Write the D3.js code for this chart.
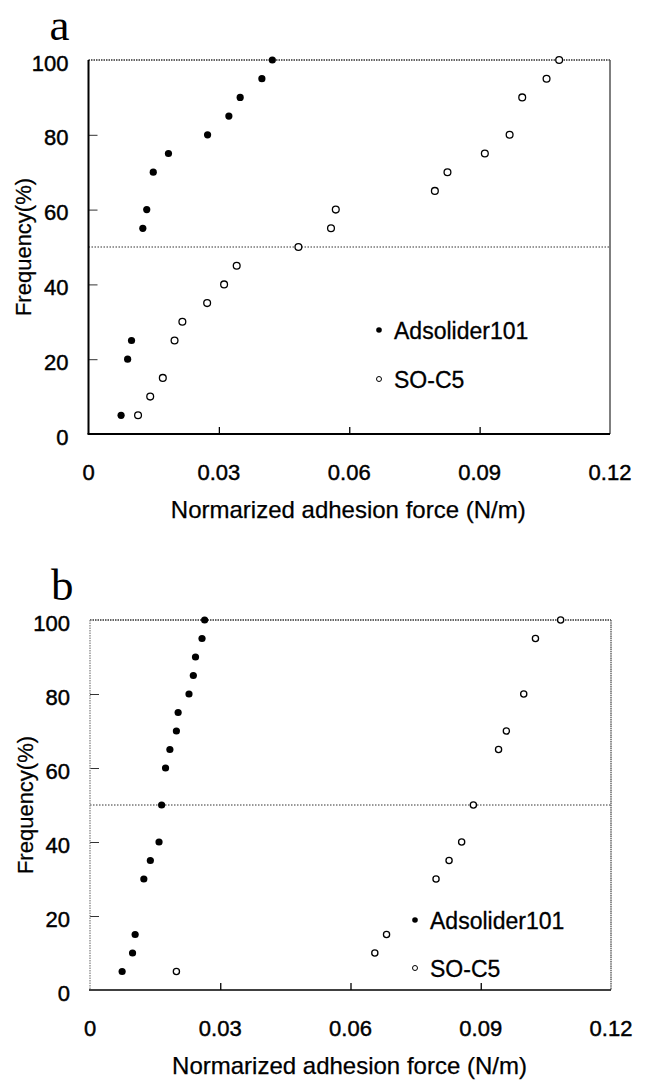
<!DOCTYPE html>
<html>
<head>
<meta charset="utf-8">
<script src="https://cdn.jsdelivr.net/npm/d3@7"></script>
<style>
  html, body { margin: 0; padding: 0; background: #fff; }
  svg { display: block; font-family: "Liberation Sans", Arial, sans-serif; }
  .tick-label { font-size: 22px; fill: #000; stroke: #000; stroke-width: 0.45px; }
  .axis-title { font-size: 22px; fill: #000; stroke: #000; stroke-width: 0.25px; }
  .legend-text { font-size: 23px; fill: #000; stroke: #000; stroke-width: 0.3px; }
  .panel-letter { font-family: "Liberation Serif", "Times New Roman", serif; font-size: 45px; fill: #000; }
</style>
</head>
<body>
<svg id="chart" width="648" height="1085"></svg>
<script>
// panel a
const aFilledX = [0.0075, 0.0090, 0.0099, 0.0125, 0.0134, 0.0149, 0.0184, 0.0274, 0.0323, 0.0349, 0.0399, 0.0423];
const aFilledY = [5, 20, 25, 55, 60, 70, 75, 80, 85, 90, 95, 100];
const aOpenX = [0.0114, 0.0142, 0.0171, 0.0198, 0.0216, 0.0273, 0.0312, 0.0341, 0.0483, 0.0558, 0.0569, 0.0797, 0.0826, 0.0912, 0.0969, 0.0998, 0.1054, 0.1083];
const aOpenY = [5, 10, 15, 25, 30, 35, 40, 45, 50, 55, 60, 65, 70, 75, 80, 90, 95, 100];

// panel b
const bFilledX = [0.0074, 0.0098, 0.0104, 0.0124, 0.0139, 0.0159, 0.0165, 0.0174, 0.0184, 0.0199, 0.0203, 0.0228, 0.0238, 0.0243, 0.0258, 0.0264];
const bFilledY = [5, 10, 15, 30, 35, 40, 50, 60, 65, 70, 75, 80, 85, 90, 95, 100];
const bOpenX = [0.0199, 0.0656, 0.0683, 0.0797, 0.0827, 0.0856, 0.0883, 0.0941, 0.0959, 0.0999, 0.1026, 0.1084];
const bOpenY = [5, 10, 15, 30, 35, 40, 50, 65, 70, 80, 95, 100];

const xTicks = [0, 0.03, 0.06, 0.09, 0.12];
const xTickLabels = ["0", "0.03", "0.06", "0.09", "0.12"];
const yTicks = [0, 20, 40, 60, 80, 100];
const seriesNames = ["Adsolider101", "SO-C5"];
const xTitle = "Normarized adhesion force (N/m)";
const yTitle = "Frequency(%)";
const medianLine = 50;

const svg = d3.select("#chart");

function zip(xs, ys) {
  return xs.map((x, i) => ({ x, y: ys[i] }));
}

function drawPanel(p) {
  const x = d3.scaleLinear().domain([0, 0.12]).range([p.left, p.right]);
  const y = d3.scaleLinear().domain([0, 100]).range([p.bottom, p.top]);
  const g = svg.append("g");

  g.append("text")
    .attr("class", "panel-letter")
    .attr("x", p.left - 39)
    .attr("y", p.top - 20)
    .text(p.letter);

  // frame: dotted top, right border, axes
  g.append("line")
    .attr("x1", p.left).attr("x2", p.right)
    .attr("y1", y(100)).attr("y2", y(100))
    .attr("stroke", "#333").attr("stroke-width", 1.4)
    .attr("stroke-dasharray", "1.5,1");
  g.append("line")
    .attr("x1", p.right).attr("x2", p.right)
    .attr("y1", p.top).attr("y2", p.bottom)
    .attr("stroke", p.rightColor).attr("stroke-width", 1.5)
    .attr("stroke-dasharray", p.rightDash);
  g.append("line")
    .attr("x1", p.left).attr("x2", p.right)
    .attr("y1", y(medianLine)).attr("y2", y(medianLine))
    .attr("stroke", "#333").attr("stroke-width", 1)
    .attr("stroke-dasharray", "1.5,1.5");

  const yAxis = g.append("g")
    .attr("transform", `translate(${p.left},0)`)
    .call(d3.axisRight(y).tickValues(yTicks.slice(1, -1)).tickSize(9).tickFormat(""));
  yAxis.select(".domain").remove();
  yAxis.selectAll(".tick line").attr("stroke", "#333").attr("stroke-width", 1);
  g.append("line")
    .attr("x1", p.left).attr("x2", p.left)
    .attr("y1", p.top).attr("y2", p.bottom)
    .attr("stroke", p.leftColor).attr("stroke-width", p.leftWidth)
    .attr("stroke-dasharray", p.leftDash);

  const xAxis = g.append("g")
    .attr("transform", `translate(0,${p.bottom})`)
    .call(d3.axisTop(x).tickValues(xTicks.slice(1, -1)).tickSize(7).tickFormat(""));
  xAxis.select(".domain").remove();
  xAxis.selectAll(".tick line").attr("stroke", "#000").attr("stroke-width", 1.3);
  g.append("line")
    .attr("x1", p.left - 1).attr("x2", p.right)
    .attr("y1", p.bottom).attr("y2", p.bottom)
    .attr("stroke", "#000").attr("stroke-width", p.bottomWidth);

  // tick labels
  g.selectAll(".ylab").data(yTicks).join("text")
    .attr("class", "tick-label")
    .attr("x", p.left - 20)
    .attr("y", d => y(d) + 3)
    .attr("text-anchor", "end")
    .attr("dominant-baseline", "central")
    .text(d => d);
  g.selectAll(".xlab").data(xTicks).join("text")
    .attr("class", "tick-label")
    .attr("x", d => x(d))
    .attr("y", p.bottom + 38)
    .attr("text-anchor", "middle")
    .attr("dominant-baseline", "central")
    .text((d, i) => xTickLabels[i]);

  g.append("text")
    .attr("class", "axis-title")
    .attr("x", (p.left + p.right) / 2 - 1)
    .attr("y", p.bottom + 75)
    .attr("text-anchor", "middle")
    .attr("dominant-baseline", "central")
    .style("font-size", "24px")
    .text(xTitle);
  g.append("text")
    .attr("class", "axis-title")
    .attr("transform", `translate(${p.left - 65},${(p.top + p.bottom) / 2}) rotate(-90)`)
    .attr("text-anchor", "middle")
    .attr("dominant-baseline", "central")
    .text(yTitle);

  // points
  g.selectAll(".open").data(zip(p.openX, p.openY)).join("circle")
    .attr("cx", d => x(d.x)).attr("cy", d => y(d.y))
    .attr("r", p.openR)
    .attr("fill", "#fff").attr("stroke", "#000").attr("stroke-width", 1.3);
  g.selectAll(".filled").data(zip(p.filledX, p.filledY)).join("circle")
    .attr("cx", d => x(d.x)).attr("cy", d => y(d.y))
    .attr("r", 3.6)
    .attr("fill", "#000");

  // legend
  const lg = g.append("g").attr("transform", `translate(${p.legendX},${p.legendY})`);
  lg.append("circle").attr("cx", 0).attr("cy", 0).attr("r", 2.8).attr("fill", "#000");
  lg.append("circle").attr("cx", 0).attr("cy", p.legendGap).attr("r", 2.5)
    .attr("fill", "#fff").attr("stroke", "#000").attr("stroke-width", 1);
  lg.selectAll(".legend-text").data(seriesNames).join("text")
    .attr("class", "legend-text")
    .attr("x", 15)
    .attr("y", (d, i) => i * p.legendGap + 1)
    .attr("dominant-baseline", "central")
    .text(d => d);
}

drawPanel({
  letter: "a",
  left: 88.5, right: 610, top: 60, bottom: 434,
  filledX: aFilledX, filledY: aFilledY, openX: aOpenX, openY: aOpenY,
  openR: 3.4,
  leftColor: "#000", leftWidth: 2, leftDash: null,
  rightColor: "#555", rightDash: null,
  bottomWidth: 2.2,
  legendX: 379, legendY: 330, legendGap: 49,
});

drawPanel({
  letter: "b",
  left: 90, right: 611, top: 620, bottom: 990,
  filledX: bFilledX, filledY: bFilledY, openX: bOpenX, openY: bOpenY,
  openR: 3.1,
  leftColor: "#888", leftWidth: 1.3, leftDash: "1.5,1",
  rightColor: "#666", rightDash: "1.5,0.7",
  bottomWidth: 1.6,
  legendX: 415, legendY: 920, legendGap: 48,
});
</script>
</body>
</html>
